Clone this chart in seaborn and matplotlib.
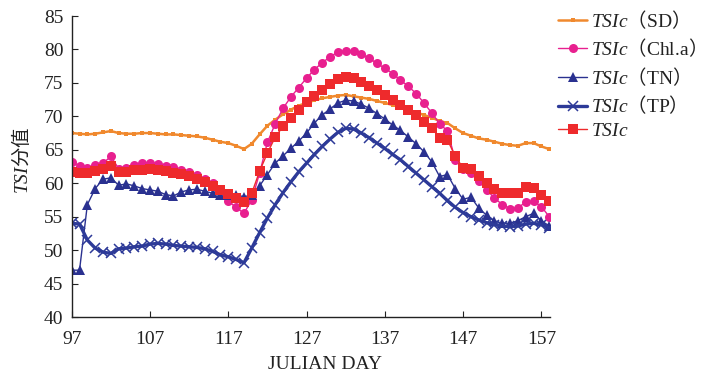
import numpy as np
import pandas as pd
import matplotlib
matplotlib.use("Agg")
import matplotlib.pyplot as plt
from matplotlib.legend_handler import HandlerLine2D
import seaborn as sns

days = list(range(97, 159))

tsi_sd = [67.5, 67.4, 67.3, 67.4, 67.6, 67.8, 67.5, 67.4, 67.4, 67.5, 67.5, 67.4, 67.3, 67.3, 67.2, 67.1,
          67.0, 66.8, 66.5, 66.2, 66.0, 65.6, 65.1, 65.9, 67.3, 68.6, 69.5, 70.3, 71.0, 71.6, 72.0, 72.4,
          72.7, 72.9, 73.1, 73.2, 73.0, 72.8, 72.6, 72.3, 72.0, 71.7, 71.3, 70.9, 70.6, 70.2, 69.8, 69.3,
          69.0, 68.2, 67.5, 67.1, 66.7, 66.5, 66.2, 65.9, 65.7, 65.6, 66.0, 66.0, 65.5, 65.1]

tsi_chla = [63.2, 62.6, 62.3, 62.7, 63.0, 64.0, 62.2, 62.3, 62.7, 63.0, 63.0, 62.9, 62.6, 62.4, 62.0, 61.7,
            61.2, 60.7, 60.0, 58.8, 57.3, 56.4, 55.5, 57.5, 61.5, 66.1, 68.9, 71.2, 72.9, 74.3, 75.7, 77.0,
            78.0, 78.9, 79.6, 79.8, 79.8, 79.3, 78.7, 77.9, 77.2, 76.4, 75.4, 74.5, 73.4, 72.0, 70.5, 68.9,
            67.8, 63.5, 62.2, 61.5, 60.3, 59.0, 57.8, 56.8, 56.2, 56.3, 57.2, 57.3, 56.5, 55.0]

tsi_tn = [47.0, 47.0, 56.8, 59.2, 60.6, 60.8, 59.7, 59.9, 59.6, 59.2, 59.0, 58.8, 58.3, 58.1, 58.7, 59.0,
          59.1, 58.8, 58.5, 58.3, 58.3, 58.2, 58.0, 58.2, 59.6, 61.3, 63.0, 64.1, 65.2, 66.3, 67.5, 69.0,
          70.2, 71.1, 72.0, 72.4, 72.3, 71.8, 71.2, 70.4, 69.6, 68.7, 67.9, 66.9, 65.9, 64.7, 63.2, 61.0,
          61.3, 59.2, 57.6, 57.9, 56.3, 55.2, 54.4, 54.0, 54.0, 54.4, 55.0, 55.5, 54.4, 53.6]

tsi_tp = [54.0, 53.9, 51.5, 50.3, 49.7, 49.5, 50.2, 50.3, 50.5, 50.6, 50.9, 51.0, 50.9, 50.7, 50.6, 50.5,
          50.4, 50.2, 49.8, 49.3, 49.0, 48.6, 48.1, 50.3, 52.6, 54.8, 56.8, 58.6, 60.2, 61.7, 63.0, 64.3,
          65.5, 66.6, 67.6, 68.2, 68.1, 67.5, 66.8, 66.0, 65.2, 64.3, 63.5, 62.5, 61.5, 60.5, 59.5, 58.5,
          57.4, 56.4, 55.6, 55.0, 54.5, 54.1, 53.8, 53.6, 53.5, 53.6, 53.9, 54.0, 53.8, 53.3]

tsi_c = [61.7, 61.5, 61.5, 61.9, 62.2, 62.6, 61.7, 61.7, 62.0, 62.0, 62.1, 62.0, 61.9, 61.6, 61.4, 61.1,
         60.7, 60.2, 59.6, 59.0, 58.4, 57.8, 57.2, 58.5, 61.8, 64.5, 66.9, 68.5, 69.8, 70.9, 72.1, 73.1,
         74.0, 74.9, 75.6, 75.9, 75.7, 75.2, 74.6, 74.0, 73.2, 72.4, 71.7, 71.0, 70.2, 69.2, 68.2, 66.8,
         66.5, 64.0, 62.3, 62.1, 61.1, 60.1, 59.1, 58.5, 58.5, 58.6, 59.5, 59.3, 58.3, 57.3]

series_labels = [r"$\mathit{TSIc}\mathsf{（}\mathrm{SD}\mathsf{）}$",
                 r"$\mathit{TSIc}\mathsf{（}\mathrm{Chl.\!a}\mathsf{）}$",
                 r"$\mathit{TSIc}\mathsf{（}\mathrm{TN}\mathsf{）}$",
                 r"$\mathit{TSIc}\mathsf{（}\mathrm{TP}\mathsf{）}$",
                 r"$\mathit{TSIc}$"]
y_label = r"$\mathit{TSI}\mathsf{分值}$"
x_label = "JULIAN DAY"
x_ticks = [97, 107, 117, 127, 137, 147, 157]
y_ticks = [40, 45, 50, 55, 60, 65, 70, 75, 80, 85]

sns.set_style("ticks")
plt.rcParams["font.family"] = ["Liberation Serif", "Noto Sans CJK SC"]
plt.rcParams["mathtext.fontset"] = "custom"
plt.rcParams["mathtext.rm"] = "Liberation Serif"
plt.rcParams["mathtext.it"] = "Liberation Serif:italic"
plt.rcParams["mathtext.sf"] = "Noto Sans CJK SC"

fig = plt.figure(figsize=(7.02, 3.76), dpi=100)
ax = fig.add_axes([71.7 / 702, 1 - 317 / 376, (550 - 71.7) / 702, (317 - 16) / 376])

colors = ["#F0892E", "#E8208F", "#2A3190", "#2D3A98", "#EE2A2C"]
styles = [
    dict(marker="s", markersize=2.2, linewidth=1.8, markeredgewidth=0),
    dict(marker="o", markersize=6.5, linewidth=1.0, markeredgewidth=0),
    dict(marker="^", markersize=7.8, linewidth=1.0, markeredgewidth=0),
    dict(marker="x", markersize=7, linewidth=2.4, markeredgewidth=1.1),
    dict(marker="s", markersize=6.5, linewidth=1.0, markeredgewidth=0),
]
all_series = [tsi_sd, tsi_chla, tsi_tn, tsi_tp, tsi_c]

for vals, lab, st, c in zip(all_series, series_labels, styles, colors):
    sns.lineplot(x=days, y=vals, ax=ax, label=lab, color=c, markeredgecolor=c,
                 markerfacecolor=c, **st)

if ax.get_legend() is not None:
    ax.get_legend().remove()

ax.set_xlim(97, 158.1)
ax.set_ylim(40, 85)
ax.set_xticks(x_ticks)
ax.set_yticks(y_ticks)
ax.tick_params(direction="in", length=4, width=0.8, labelsize=14, colors="#222222")
ax.tick_params(axis="x", pad=10)
ax.tick_params(axis="y", pad=6)
for s in ["top", "right"]:
    ax.spines[s].set_visible(False)
for s in ["left", "bottom"]:
    ax.spines[s].set_linewidth(1.0)
    ax.spines[s].set_color("#222222")

ax.set_xlabel(x_label, fontsize=14, color="#222222")
ax.xaxis.set_label_coords(0.53, -0.13)
ax.set_ylabel(y_label, fontsize=14, color="#222222")
ax.yaxis.set_label_coords(-0.083, 0.52)


class LeftMarker(HandlerLine2D):
    def get_xdata(self, legend, xdescent, ydescent, width, height, fontsize):
        xdata = np.array([-xdescent, -xdescent + width])
        return xdata, np.array([-xdescent])


handles, labels = ax.get_legend_handles_labels()
leg = fig.legend(handles, labels, loc="upper left", bbox_to_anchor=(558 / 702, 1 - 8 / 376),
                 frameon=False, fontsize=14, handlelength=1.5, handletextpad=0.2,
                 labelspacing=0.3, borderaxespad=0, borderpad=0,
                 handler_map={h: LeftMarker(numpoints=1) for h in handles})
for t in leg.get_texts():
    t.set_color("#222222")

fig.savefig("out.png", dpi=100)
